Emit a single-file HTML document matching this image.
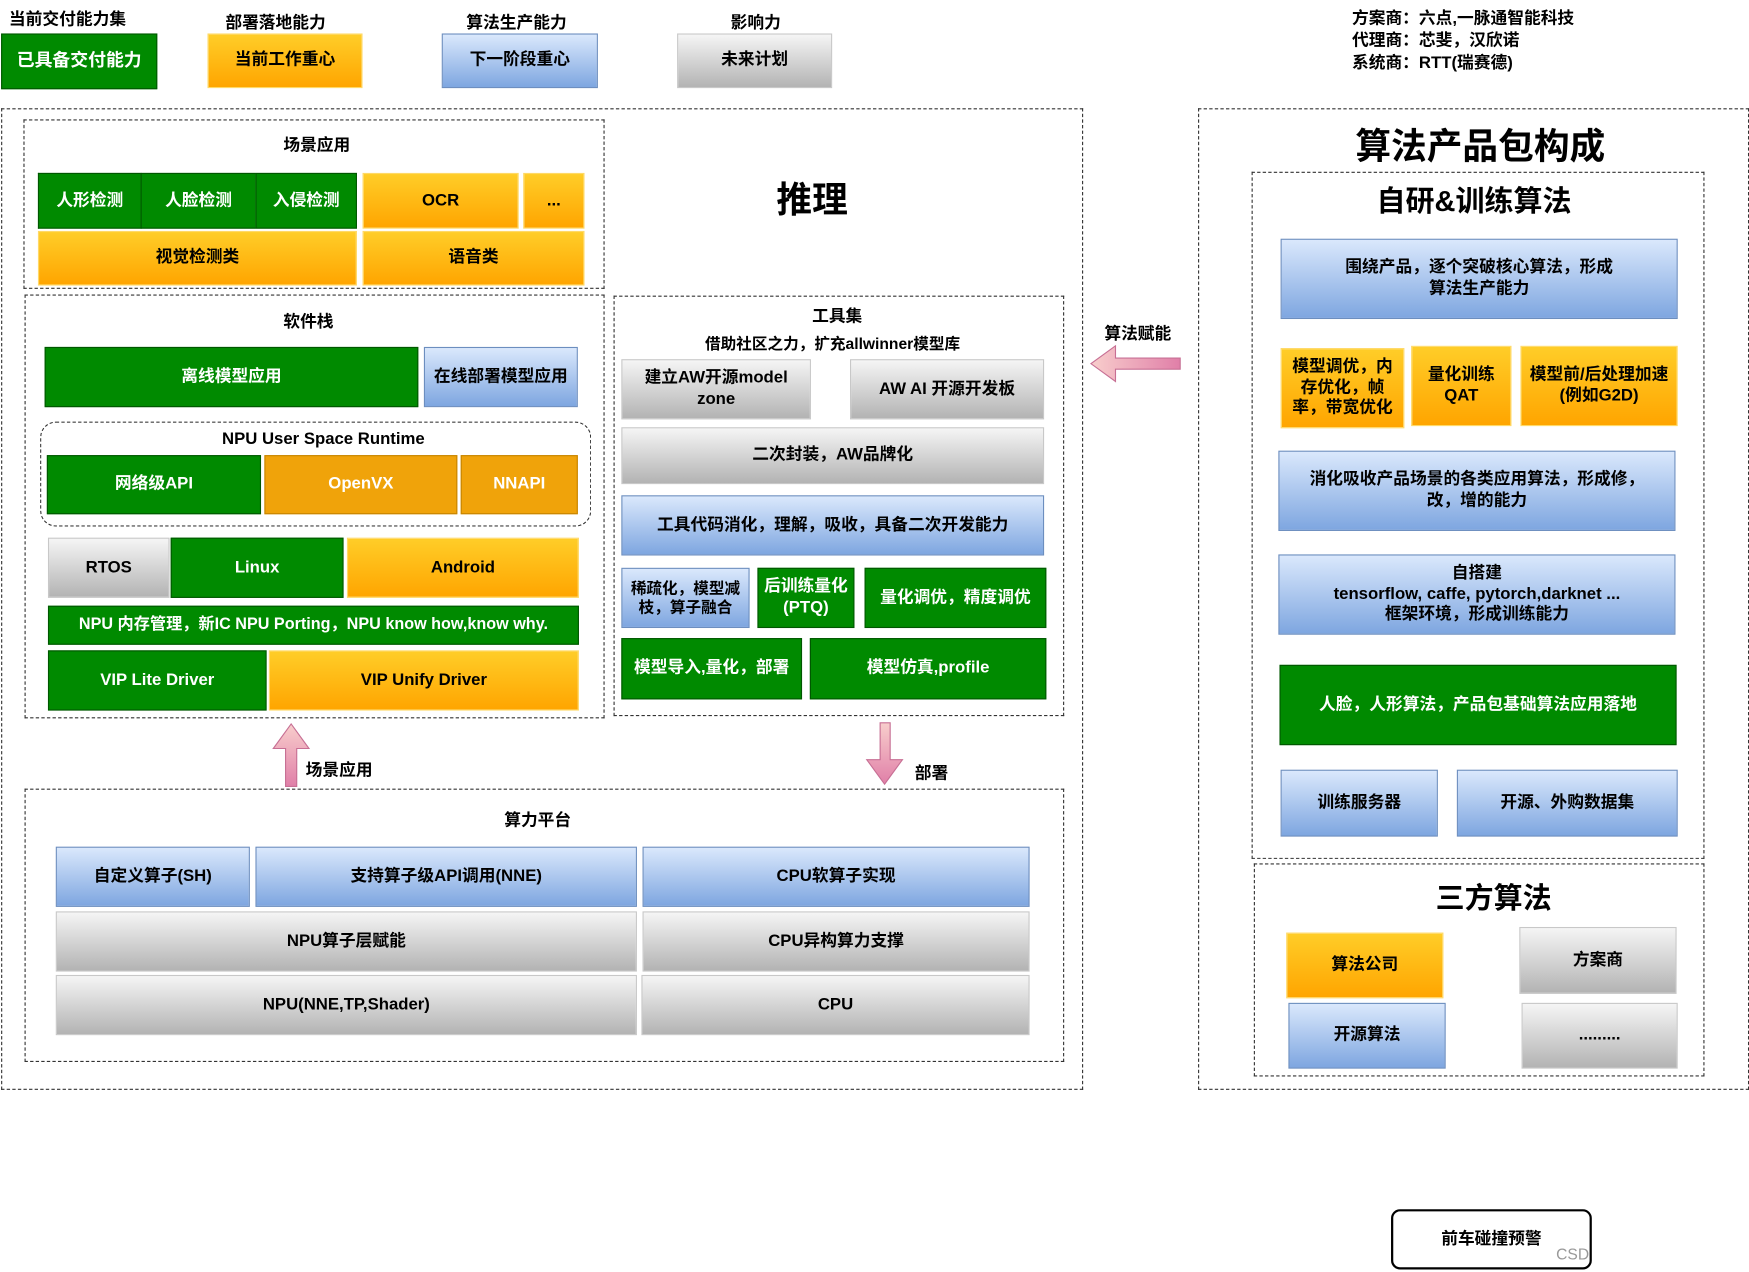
<!DOCTYPE html>
<html><head><meta charset="utf-8"><style>
html,body{margin:0;padding:0;background:#fff;width:1749px;height:1272px;overflow:hidden}
#w{position:absolute;left:0;top:0;width:1568px;height:1140px;transform:scale(1.1155);transform-origin:0 0;font-family:"Liberation Sans","Noto Sans CJK SC",sans-serif;font-weight:bold;color:#000}
.b{position:absolute;box-sizing:border-box;display:flex;align-items:center;justify-content:center;text-align:center;font-size:15px;line-height:1.25}
.g{background:#008a00;color:#fff;border:1px solid #005700}
.o{background:linear-gradient(#ffcd28,#ffa500);border:1px solid #ffd966}
.os{background:#f0a30a;color:#fff;border:1px solid #c78500}
.bl{background:linear-gradient(#dae8fc,#7ea6e0);border:1px solid #6c8ebf}
.gr{background:linear-gradient(#f5f5f5,#b3b3b3);border:1px solid #c8c8c8}
.d{position:absolute;box-sizing:border-box;border:1px dashed #333}
.t{position:absolute;white-space:nowrap;font-size:15px}
</style></head><body><div id="w">
<div class="t" style="left:8px;top:6px">当前交付能力集</div>
<div class="b g" style="left:1px;top:30px;width:140px;height:50px;font-size:16px">已具备交付能力</div>
<div class="t" style="left:202px;top:9px">部署落地能力</div>
<div class="b o" style="left:186px;top:30px;width:139px;height:49px">当前工作重心</div>
<div class="t" style="left:418px;top:9px">算法生产能力</div>
<div class="b bl" style="left:396px;top:30px;width:140px;height:49px">下一阶段重心</div>
<div class="t" style="left:655px;top:9px">影响力</div>
<div class="b gr" style="left:607px;top:30px;width:139px;height:49px">未来计划</div>
<div class="t" style="left:1212px;top:7px;line-height:20px">方案商：六点,一脉通智能科技<br>代理商：芯斐，汉欣诺<br>系统商：RTT(瑞赛德)</div>

<div class="d" style="left:1px;top:97px;width:970px;height:880px"></div>
<div class="d" style="left:21px;top:107px;width:521px;height:152px"></div>
<div class="t" style="left:254px;top:119px">场景应用</div>
<div class="b g" style="left:34px;top:155px;width:92px;height:50px;border-right:none">人形检测</div>
<div class="b g" style="left:126px;top:155px;width:103px;height:50px;border-right:none">人脸检测</div>
<div class="b g" style="left:229px;top:155px;width:91px;height:50px">入侵检测</div>
<div class="b o" style="left:325px;top:155px;width:140px;height:50px">OCR</div>
<div class="b o" style="left:469px;top:155px;width:55px;height:50px">...</div>
<div class="b o" style="left:34px;top:207px;width:286px;height:49px">视觉检测类</div>
<div class="b o" style="left:325px;top:207px;width:199px;height:49px">语音类</div>
<div class="t" style="left:696px;top:154px;font-size:32px">推理</div>

<div class="d" style="left:22px;top:264px;width:520px;height:380px"></div>
<div class="t" style="left:254px;top:277px">软件栈</div>
<div class="b g" style="left:40px;top:311px;width:335px;height:54px">离线模型应用</div>
<div class="b bl" style="left:380px;top:311px;width:138px;height:54px">在线部署模型应用</div>
<div class="d" style="left:36px;top:378px;width:494px;height:94px;border-radius:14px"></div>
<div class="t" style="left:199px;top:385px">NPU User Space Runtime</div>
<div class="b g" style="left:42px;top:408px;width:192px;height:53px">网络级API</div>
<div class="b os" style="left:237px;top:408px;width:173px;height:53px">OpenVX</div>
<div class="b os" style="left:413px;top:408px;width:105px;height:53px">NNAPI</div>
<div class="b gr" style="left:43px;top:482px;width:109px;height:54px">RTOS</div>
<div class="b g" style="left:153px;top:482px;width:155px;height:54px">Linux</div>
<div class="b o" style="left:311px;top:482px;width:208px;height:54px">Android</div>
<div class="b g" style="left:43px;top:543px;width:476px;height:35px;font-size:14.5px">NPU 内存管理，新IC NPU Porting，NPU know how,know why.</div>
<div class="b g" style="left:43px;top:583px;width:196px;height:54px">VIP Lite Driver</div>
<div class="b o" style="left:241px;top:583px;width:278px;height:54px">VIP Unify Driver</div>

<div class="d" style="left:550px;top:265px;width:404px;height:377px"></div>
<div class="t" style="left:728px;top:272px">工具集</div>
<div class="t" style="left:632px;top:298px;font-size:14px">借助社区之力，扩充allwinner模型库</div>
<div class="b gr" style="left:557px;top:322px;width:170px;height:54px">建立AW开源model<br>zone</div>
<div class="b gr" style="left:762px;top:322px;width:174px;height:54px">AW AI 开源开发板</div>
<div class="b gr" style="left:557px;top:383px;width:379px;height:51px">二次封装，AW品牌化</div>
<div class="b bl" style="left:557px;top:444px;width:379px;height:54px">工具代码消化，理解，吸收，具备二次开发能力</div>
<div class="b bl" style="left:557px;top:509px;width:115px;height:54px;font-size:14px">稀疏化，模型减<br>枝，算子融合</div>
<div class="b g" style="left:679px;top:509px;width:87px;height:54px">后训练量化<br>(PTQ)</div>
<div class="b g" style="left:775px;top:509px;width:163px;height:54px">量化调优，精度调优</div>
<div class="b g" style="left:557px;top:572px;width:162px;height:55px">模型导入,量化，部署</div>
<div class="b g" style="left:726px;top:572px;width:212px;height:55px">模型仿真,profile</div>

<svg style="position:absolute;left:0;top:0" width="1568" height="1140">
<defs><linearGradient id="pk" x1="0" x2="1"><stop offset="0" stop-color="#f8cecc"/><stop offset="1" stop-color="#e07fa8"/></linearGradient>
<linearGradient id="pk2" x1="0" x2="0" y1="0" y2="1"><stop offset="0" stop-color="#f8cecc"/><stop offset="1" stop-color="#e07fa8"/></linearGradient></defs>
<polygon points="256,705 266,705 266,671 277,671 261,649 245,671 256,671" fill="url(#pk2)" stroke="#c76f94"/>
<polygon points="789,648 798,648 798,681 809,681 793,703 777,681 789,681" fill="url(#pk2)" stroke="#c76f94"/>
<polygon points="1058,321 1058,331 1000,331 1000,342 978,326 1000,310 1000,321" fill="url(#pk)" stroke="#c76f94"/>
</svg>
<div class="t" style="left:274px;top:679px">场景应用</div>
<div class="t" style="left:820px;top:682px">部署</div>
<div class="t" style="left:990px;top:288px">算法赋能</div>

<div class="d" style="left:22px;top:707px;width:932px;height:245px"></div>
<div class="t" style="left:452px;top:724px">算力平台</div>
<div class="b bl" style="left:50px;top:759px;width:174px;height:54px">自定义算子(SH)</div>
<div class="b bl" style="left:229px;top:759px;width:342px;height:54px">支持算子级API调用(NNE)</div>
<div class="b bl" style="left:576px;top:759px;width:347px;height:54px">CPU软算子实现</div>
<div class="b gr" style="left:50px;top:817px;width:521px;height:54px">NPU算子层赋能</div>
<div class="b gr" style="left:576px;top:817px;width:347px;height:54px">CPU异构算力支撑</div>
<div class="b gr" style="left:50px;top:874px;width:521px;height:54px">NPU(NNE,TP,Shader)</div>
<div class="b gr" style="left:575px;top:874px;width:348px;height:54px">CPU</div>

<div class="d" style="left:1074px;top:97px;width:494px;height:880px"></div>
<div class="t" style="left:1215px;top:106px;font-size:32px">算法产品包构成</div>
<div class="d" style="left:1122px;top:154px;width:406px;height:616px"></div>
<div class="t" style="left:1234px;top:160px;font-size:26px">自研&amp;训练算法</div>
<div class="b bl" style="left:1148px;top:214px;width:356px;height:72px">围绕产品，逐个突破核心算法，形成<br>算法生产能力</div>
<div class="b o" style="left:1148px;top:312px;width:111px;height:72px">模型调优，内<br>存优化，帧<br>率，带宽优化</div>
<div class="b o" style="left:1265px;top:310px;width:90px;height:72px">量化训练<br>QAT</div>
<div class="b o" style="left:1363px;top:310px;width:141px;height:72px">模型前/后处理加速<br>(例如G2D)</div>
<div class="b bl" style="left:1146px;top:404px;width:356px;height:72px">消化吸收产品场景的各类应用算法，形成修，<br>改，增的能力</div>
<div class="b bl" style="left:1146px;top:497px;width:356px;height:72px">自搭建<br>tensorflow, caffe, pytorch,darknet ...<br>框架环境，形成训练能力</div>
<div class="b g" style="left:1147px;top:596px;width:356px;height:72px">人脸，人形算法，产品包基础算法应用落地</div>
<div class="b bl" style="left:1148px;top:690px;width:141px;height:60px">训练服务器</div>
<div class="b bl" style="left:1306px;top:690px;width:198px;height:60px">开源、外购数据集</div>
<div class="d" style="left:1124px;top:774px;width:404px;height:191px"></div>
<div class="t" style="left:1287px;top:785px;font-size:26px">三方算法</div>
<div class="b o" style="left:1153px;top:836px;width:141px;height:59px">算法公司</div>
<div class="b gr" style="left:1362px;top:831px;width:141px;height:60px">方案商</div>
<div class="b bl" style="left:1155px;top:899px;width:141px;height:59px">开源算法</div>
<div class="b gr" style="left:1364px;top:899px;width:140px;height:59px">.........</div>

<div class="b" style="left:1247px;top:1084px;width:180px;height:54px;border:2px solid #000;border-radius:8px">前车碰撞预警</div>
<div class="t" style="left:1395px;top:1116px;color:#999;font-weight:normal;font-size:14px">CSD</div>
</div></body></html>
